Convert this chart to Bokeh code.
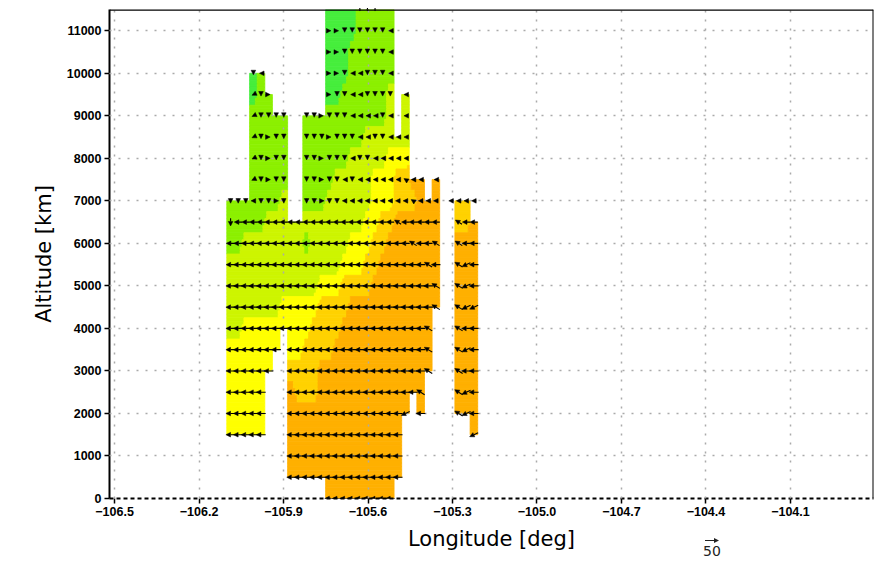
import math
from bokeh.plotting import figure
from bokeh.layouts import column
from bokeh.models import (Arrow, NormalHead, ColumnDataSource, FixedTicker, Span,
                          Div, Range1d, CustomJSTickFormatter)
from bokeh.embed import file_html
from bokeh.resources import INLINE

# ---------------- data ----------------
# altitude levels of the cross-section grid (m), top to bottom
levels = [11500, 11000, 10500, 10000, 9500, 9000, 8500, 8000, 7500, 7000, 6500, 6000,
          5500, 5000, 4500, 4000, 3500, 3000, 2500, 2000, 1500, 1000, 500, 0]
# longitude grid
lon_first = -106.088
lon_step = 0.027
n_lon = 34

# shaded field class per grid point (0..5), '.' = no data, 'x' = vector only
value_rows = [
    "." * 13 + "0" * 4 + "1" * 5 + "." * 12,                                   # 11500
    "." * 13 + "0" * 4 + "1" * 5 + "." * 12,                                   # 11000
    "." * 13 + "0" * 3 + "1" * 6 + "." * 12,                                   # 10500
    "." * 3 + "01" + "." * 8 + "0" * 3 + "1" * 6 + "." * 12,                   # 10000
    "." * 3 + "011" + "." * 7 + "00" + "1" * 6 + "2" + ".2" + "." * 10,        # 9500
    "." * 3 + "1" * 5 + ".." + "1" * 11 + "2" + ".2" + "." * 10,               # 9000
    "." * 3 + "1" * 5 + ".." + "1" * 8 + "2" * 6 + "." * 10,                   # 8500
    "." * 3 + "1" * 5 + ".." + "1" * 6 + "2" * 5 + "3" * 3 + "." * 10,         # 8000
    "." * 3 + "1" * 5 + ".." + "1" * 4 + "2" * 5 + "3" * 3 + "44" + "55" + ".5" + "." * 6,  # 7500
    "1" * 7 + "2" + ".." + "1" * 3 + "2" * 6 + "3" * 3 + "4" * 3 + "5" * 3 + ".x44x.",     # 7000
    "1" * 5 + "2" * 13 + "33" + "44" + "5" * 6 + "..445.",                     # 6500
    "11" + "2" * 8 + "1" + "2" * 5 + "3" * 3 + "44" + "5" * 7 + "..555.",      # 6000
    "2" * 15 + "3" * 3 + "44" + "5" * 8 + "..555.",                            # 5500
    "2" * 12 + "3" * 3 + "4" * 4 + "5" * 9 + "..555.",                         # 5000
    "2" * 7 + "3" * 5 + "4" * 4 + "5" * 12 + "..555.",                         # 4500
    "22" + "3" * 9 + "4" * 4 + "5" * 12 + "...555.",                           # 4000
    "3" * 7 + "." + "33" + "4" * 4 + "5" * 13 + "...555.",                     # 3500
    "3" * 6 + ".." + "4" * 4 + "5" * 15 + "...555.",                           # 3000
    "3" * 5 + "..." + "5" + "444" + "5" * 14 + "...." + "555.",                # 2500
    "3" * 5 + "..." + "5" * 16 + ".5" + "...." + "555.",                       # 2000
    "3" * 5 + "..." + "5" * 15 + "." * 9 + "5.",                               # 1500
    "." * 8 + "5" * 15 + "." * 11,                                             # 1000
    "." * 8 + "5" * 15 + "." * 11,                                             # 500
    "." * 13 + "5" * 9 + "." * 12,                                             # 0
]

# wind vector direction per grid point
wind_rows = [
    "." * 17 + "vvv" + "." * 14,                                               # 11500
    "." * 13 + ">>vvvvvv<" + "." * 12,                                         # 11000
    "." * 13 + ">>vvvvvv<" + "." * 12,                                         # 10500
    "." * 3 + "v<" + "." * 8 + ">>v<<vvv<" + "." * 12,                         # 10000
    "." * 3 + "dv>" + "." * 7 + ">vv<<vvvv" + ".<" + "." * 10,                 # 9500
    "." * 3 + "dvvvv" + ".." + "vv>vvv<<<<v<" + ".<" + "." * 10,               # 9000
    "." * 3 + "dv>vv" + ".." + "vvv>vvv<<vv<<<" + "." * 10,                    # 8500
    "." * 3 + "dv>vv" + ".." + "vv>vvv<vv<<<<<" + "." * 10,                    # 8000
    "." * 3 + "dv>vv" + ".." + "vv>vv<v<<<<<<q<<" + ".<" + "." * 6,            # 7500
    "vvv<vv>v" + ".." + "vv>vv" + "<" * 9 + "q<<<" + ".<<<<.",                 # 7000
    "v" + "<" * 21 + "q" + "<" * 5 + "..q<<.",                                 # 6500
    "<" * 24 + "q<<q" + "..q<<.",                                              # 6000
    "<" * 26 + "q<" + "..qd<.",                                                # 5500
    "<" * 27 + "q" + "..qd<.",                                                 # 5000
    "<" * 27 + "q" + "..qdd.",                                                 # 4500
    "<" * 26 + "q" + "...q<<.",                                                # 4000
    "<" * 7 + "." + "<" * 18 + "q" + "...qd<.",                                # 3500
    "<" * 6 + ".." + "<" * 18 + "q" + "...q<<.",                               # 3000
    "<" * 5 + "..." + "<" * 17 + "q" + "...." + "qd<.",                        # 2500
    "<" * 5 + "..." + "<" * 15 + "d" + ".<" + "...." + "qd<.",                 # 2000
    "<" * 5 + "..." + "<" * 15 + "." * 9 + "d.",                               # 1500
    "." * 8 + "<" * 15 + "." * 11,                                             # 1000
    "." * 8 + "<" * 15 + "." * 11,                                             # 500
    "." * 13 + "<" * 9 + "." * 12,                                             # 0
]
# wind speed per level
wind_speed = [12, 12, 12, 12, 12, 12, 12, 12, 14, 18, 30, 33, 35, 36, 36, 36,
              36, 36, 36, 36, 36, 36, 36, 36]
ref_speed = 50

x_ticks = [-106.5, -106.2, -105.9, -105.6, -105.3, -105.0, -104.7, -104.4, -104.1]
y_ticks = [0, 1000, 2000, 3000, 4000, 5000, 6000, 7000, 8000, 9000, 10000, 11000]

# ---------------- styles ----------------
class_colors = ["#46ee3c", "#8cf000", "#cdf500", "#ffff00", "#ffd200", "#ffb000"]
dir_angle = {"<": 180, ">": 0, "v": 270, "^": 90, "q": 148, "d": 205}

X0, X1 = -106.518, -103.805
Y0, Y1 = 0, 11500
W, H = 875, 564
BL, BR, BT, BB = 109, 2, 9, 66
frame_w = W - BL - BR
frame_h = H - BT - BB
px_per_deg = frame_w / (X1 - X0)
px_per_m = frame_h / (Y1 - Y0)
px_per_speed = 0.26

p = figure(width=W, height=H, x_range=Range1d(X0, X1), y_range=Range1d(Y0, Y1),
           output_backend="svg", toolbar_location=None,
           min_border_left=BL, min_border_right=BR, min_border_top=BT, min_border_bottom=BB)
p.outline_line_color = None
p.background_fill_color = "white"
p.border_fill_color = "white"


def pad(s):
    return (s + "." * n_lon)[:n_lon]


value_rows = [pad(r) for r in value_rows]
wind_rows = [pad(r) for r in wind_rows]


def cell_val(j, i):
    if i < 0 or i >= n_lon:
        return None
    c = value_rows[j][i]
    return int(c) if c.isdigit() else None


def row_val(j, i, f):
    v = cell_val(j, i)
    k = i + 1 if f > 0 else i - 1
    vk = cell_val(j, k)
    if vk is None:
        return v
    return v + abs(f) * (vk - v)


# ---------------- shaded field ----------------
NH, NV = 4, 6
ql, qr, qt, qb, qc = [], [], [], [], []


def flush(run, ytop, ybot):
    ql.append(run[0]); qr.append(run[1]); qt.append(ytop); qb.append(ybot)
    qc.append(class_colors[run[2]])


for j in range(len(levels) - 1):
    hi, lo = levels[j], levels[j + 1]
    for s in range(NV):
        tm = (s + 0.5) / NV
        ytop = hi - s * (hi - lo) / NV
        ybot = hi - (s + 1) * (hi - lo) / NV
        run = None
        for i in range(n_lon):
            if cell_val(j, i) is None or cell_val(j + 1, i) is None:
                if run:
                    flush(run, ytop, ybot)
                run = None
                continue
            lon = lon_first + i * lon_step
            for h in range(NH):
                f = -0.5 + (h + 0.5) / NH
                v = row_val(j, i, f) * (1 - tm) + row_val(j + 1, i, f) * tm
                cls = min(5, max(0, int(math.floor(v + 0.5))))
                xl = lon + (-0.5 + h / NH) * lon_step
                xr = lon + (-0.5 + (h + 1) / NH) * lon_step
                if run and run[2] == cls:
                    run[1] = xr
                else:
                    if run:
                        flush(run, ytop, ybot)
                    run = [xl, xr, cls]
        if run:
            flush(run, ytop, ybot)

p.quad(left=ql, right=qr, top=qt, bottom=qb, fill_color=qc, line_color=qc, line_width=0.8)

# ---------------- grid / axes ----------------
for g, t in ((p.xgrid, x_ticks), (p.ygrid, y_ticks)):
    g.ticker = FixedTicker(ticks=t)
    g.grid_line_color = "#aaaaaa"
    g.grid_line_dash = "2 7"
    g.grid_line_width = 1.5
    g.level = "guide"

p.xaxis.ticker = FixedTicker(ticks=x_ticks)
p.yaxis.ticker = FixedTicker(ticks=y_ticks)
p.xaxis.formatter = CustomJSTickFormatter(
    code="return (tick < 0 ? '\u2212' : '') + Math.abs(tick).toFixed(1);")
for ax in (p.xaxis, p.yaxis):
    ax.major_tick_out = 5
    ax.major_tick_in = 0
    ax.major_tick_line_width = 1.5
    ax.minor_tick_line_color = None
    ax.major_label_text_font = "Liberation Sans"
    ax.major_label_text_font_style = "bold"
    ax.major_label_text_font_size = "12.5px"
    ax.major_label_text_color = "black"
    ax.major_label_standoff = 3
    ax.axis_label_text_font = "DejaVu Sans"
    ax.axis_label_text_font_style = "normal"
    ax.axis_label_text_font_size = "21px"
    ax.axis_label_text_color = "black"
    ax.axis_label_standoff = 8
    ax.axis_line_width = 2
p.xaxis.axis_line_dash = "4 3"
p.xaxis.axis_label = "Longitude [deg]"
p.yaxis.axis_label = "Altitude [km]"

p.add_layout(Span(location=Y1, dimension="width", line_color="black", line_width=2.5))
p.add_layout(Span(location=X1, dimension="height", line_color="black", line_width=2))

# ---------------- wind vectors ----------------
x0s, y0s, x1s, y1s = [], [], [], []
for j, row in enumerate(wind_rows):
    alt = levels[j]
    for i, c in enumerate(row):
        if c not in dir_angle:
            continue
        lon = lon_first + i * lon_step
        L = wind_speed[j] * px_per_speed
        a = math.radians(dir_angle[c])
        dx = L * math.cos(a) / px_per_deg
        dy = L * math.sin(a) / px_per_m
        x0s.append(lon - dx / 2); y0s.append(alt - dy / 2)
        x1s.append(lon + dx / 2); y1s.append(alt + dy / 2)

src = ColumnDataSource(dict(x0=x0s, y0=y0s, x1=x1s, y1=y1s))
p.add_layout(Arrow(end=NormalHead(size=4.6, fill_color="black", line_color="black", line_width=0.5),
                   x_start="x0", y_start="y0", x_end="x1", y_end="y1", source=src,
                   line_color="black", line_width=1.1))

# reference vector legend (small drawn arrow above the speed value)
ref_div = Div(text=("<svg width='16' height='7' style='display:block;margin:0 auto'>"
                    "<line x1='1' y1='3.5' x2='11' y2='3.5' stroke='#222222' stroke-width='1'/>"
                    "<polygon points='15,3.5 10,1 10,6' fill='#222222'/></svg>"
                    "<div style='font-size:14px;line-height:15px'>" + str(ref_speed) + "</div>"),
              width=24, height=26, margin=(-27, 0, 0, 700),
              styles={"font-family": "DejaVu Sans", "text-align": "center", "color": "#222222"})

layout = column(p, ref_div, spacing=0)

open("out.html", "w").write(file_html(layout, INLINE))
